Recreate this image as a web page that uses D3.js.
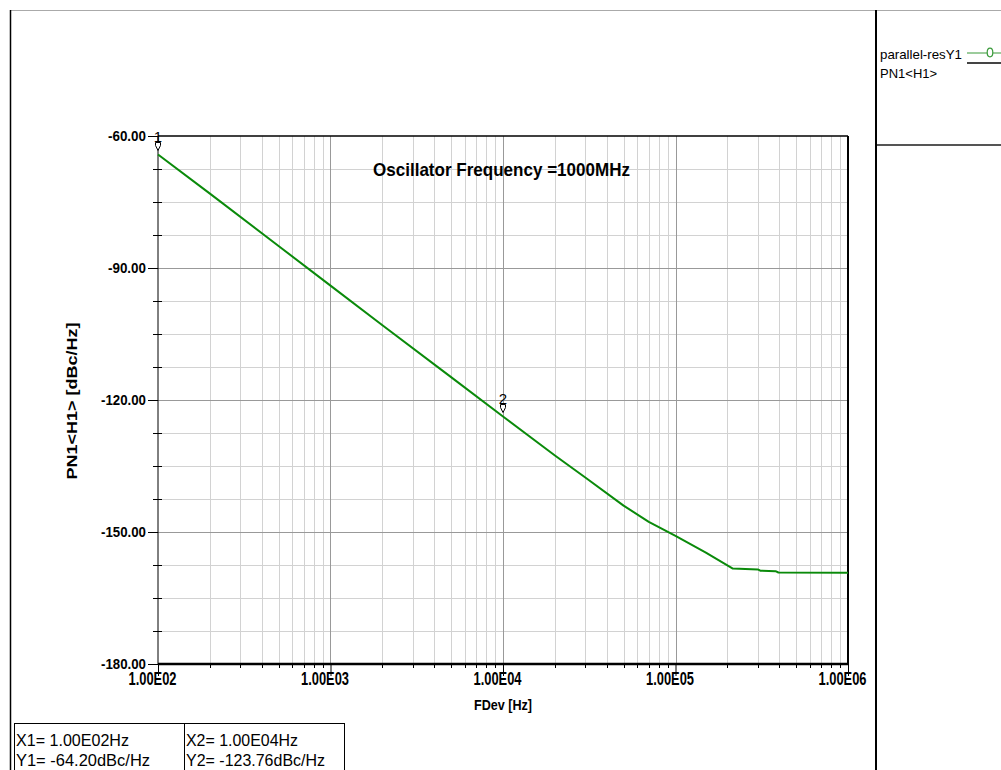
<!DOCTYPE html>
<html>
<head>
<meta charset="utf-8">
<script src="https://cdn.jsdelivr.net/npm/d3@7"></script>
<style>
  html, body { margin: 0; padding: 0; background: #fff; }
  svg { display: block; }
  text { font-family: "Liberation Sans", Arial, sans-serif; fill: #000; }
</style>
</head>
<body>
<svg id="chart" width="1001" height="770"></svg>
<script>
// Phase noise of the oscillator, offset frequency (Hz) vs dBc/Hz
const freqHz = [1e2, 2e2, 5e2, 1e3, 2e3, 5e3, 1e4, 2e4, 3e4, 5e4, 7e4, 1e5, 1.5e5, 2.15e5, 3e5, 3.1e5, 3.8e5, 3.95e5, 1e6];
const pnDbc  = [-64.2, -73.1, -85.0, -94.0, -103.0, -114.8, -123.76, -132.6, -137.6, -144.0, -147.7, -150.9, -154.7, -158.3, -158.5, -158.8, -158.9, -159.2, -159.25];

// Markers placed on the trace
const markerIds   = ["1", "2"];
const markerFreqs = [1e2, 1e4];
const markerVals  = [-64.20, -123.76];

// Axis ticks
const xDecades   = [1e2, 1e3, 1e4, 1e5, 1e6];
const xTickNames = ["1.00E02", "1.00E03", "1.00E04", "1.00E05", "1.00E06"];
const yMajor     = [-60, -90, -120, -150, -180];
const yTickNames = ["-60.00", "-90.00", "-120.00", "-150.00", "-180.00"];
const yMinor     = [-67.5, -75, -82.5, -97.5, -105, -112.5, -127.5, -135, -142.5, -157.5, -165, -172.5];

const titleText  = "Oscillator Frequency =1000MHz";
const xTitle     = "FDev [Hz]";
const yTitle     = "PN1<H1> [dBc/Hz]";
const legendName = "parallel-resY1";
const legendSub  = "PN1<H1>";

const svg = d3.select("#chart");
const plotL = 158, plotR = 848, plotT = 136, plotB = 664;
const narrow = '"Liberation Sans Narrow", "Liberation Sans", Arial, sans-serif';

const x = d3.scaleLog().domain([1e2, 1e6]).range([plotL, plotR]);
const y = d3.scaleLinear().domain([-180, -60]).range([plotB, plotT]);

// Minor frequencies 2..9 in each decade
const xMinor = [];
for (let d = 2; d < 6; d++) for (let m = 2; m <= 9; m++) xMinor.push(m * Math.pow(10, d));

// Window frame
svg.append("line").attr("x1", 10).attr("x2", 1001).attr("y1", 10.5).attr("y2", 10.5)
  .attr("stroke", "#aaa").attr("stroke-width", 1);
svg.append("line").attr("x1", 10.5).attr("x2", 10.5).attr("y1", 10).attr("y2", 770)
  .attr("stroke", "#000").attr("stroke-width", 1.5);
svg.append("line").attr("x1", 876).attr("x2", 876).attr("y1", 10).attr("y2", 770)
  .attr("stroke", "#000").attr("stroke-width", 2);
svg.append("line").attr("x1", 877).attr("x2", 1001).attr("y1", 145).attr("y2", 145)
  .attr("stroke", "#555").attr("stroke-width", 2);

// Grid
const grid = svg.append("g");
grid.selectAll(".vmin").data(xMinor).join("line")
  .attr("x1", d => Math.round(x(d)) + 0.5).attr("x2", d => Math.round(x(d)) + 0.5)
  .attr("y1", plotT).attr("y2", plotB).attr("stroke", "#d2d2d2").attr("stroke-width", 1);
grid.selectAll(".hmin").data(yMinor).join("line")
  .attr("x1", plotL).attr("x2", plotR)
  .attr("y1", d => Math.round(y(d)) + 0.5).attr("y2", d => Math.round(y(d)) + 0.5)
  .attr("stroke", "#d2d2d2").attr("stroke-width", 1);
grid.selectAll(".vmaj").data(xDecades.slice(1, -1)).join("line")
  .attr("x1", d => Math.round(x(d)) + 0.5).attr("x2", d => Math.round(x(d)) + 0.5)
  .attr("y1", plotT).attr("y2", plotB).attr("stroke", "#999").attr("stroke-width", 1);
grid.selectAll(".hmaj").data(yMajor.slice(1, -1)).join("line")
  .attr("x1", plotL).attr("x2", plotR)
  .attr("y1", d => Math.round(y(d)) + 0.5).attr("y2", d => Math.round(y(d)) + 0.5)
  .attr("stroke", "#999").attr("stroke-width", 1);

// Plot border
svg.append("line").attr("x1", plotL).attr("x2", plotR).attr("y1", plotT).attr("y2", plotT)
  .attr("stroke", "#000").attr("stroke-width", 1.5);
svg.append("line").attr("x1", plotR).attr("x2", plotR).attr("y1", plotT).attr("y2", plotB)
  .attr("stroke", "#000").attr("stroke-width", 2);
svg.append("line").attr("x1", plotL).attr("x2", plotL).attr("y1", plotT).attr("y2", plotB)
  .attr("stroke", "#000").attr("stroke-width", 1);

// Y axis
const yAxis = d3.axisLeft(y).tickValues(yMajor)
  .tickFormat((d, i) => yTickNames[i]).tickSize(10).tickPadding(2);
const yg = svg.append("g").attr("transform", `translate(${plotL},0)`).call(yAxis);
yg.select(".domain").remove();
yg.selectAll(".tick line").attr("stroke", "#000");
yg.selectAll(".tick text").attr("font-size", 15.5).attr("font-weight", "bold")
  .attr("font-family", narrow).attr("fill", "#000")
  .attr("textLength", (d, i) => yTickNames[i].length > 6 ? 45 : 38)
  .attr("lengthAdjust", "spacingAndGlyphs");
svg.append("g").selectAll("line").data(yMinor).join("line")
  .attr("x1", plotL - 5).attr("x2", plotL + 4)
  .attr("y1", d => Math.round(y(d)) + 0.5).attr("y2", d => Math.round(y(d)) + 0.5)
  .attr("stroke", "#000").attr("stroke-width", 1);

// X axis
const xAxis = d3.axisBottom(x).tickValues(xDecades)
  .tickFormat((d, i) => xTickNames[i]).tickSize(12).tickPadding(-4);
const xg = svg.append("g").attr("transform", `translate(0,${plotB})`).call(xAxis);
xg.select(".domain").remove();
xg.selectAll(".tick line").attr("stroke", "#000");
xg.selectAll(".tick text")
  .attr("font-size", 18).attr("font-weight", "bold")
  .attr("font-family", narrow)
  .attr("fill", "#000").attr("dx", -6)
  .attr("textLength", 48).attr("lengthAdjust", "spacingAndGlyphs");
svg.append("g").selectAll("line").data(xMinor).join("line")
  .attr("x1", d => Math.round(x(d)) + 0.5).attr("x2", d => Math.round(x(d)) + 0.5)
  .attr("y1", plotB).attr("y2", plotB + 4)
  .attr("stroke", "#000").attr("stroke-width", 1);
svg.append("line").attr("x1", plotL).attr("x2", plotR + 1).attr("y1", plotB).attr("y2", plotB)
  .attr("stroke", "#000").attr("stroke-width", 2.5);

// Axis titles
svg.append("text").attr("x", 503).attr("y", 710).attr("text-anchor", "middle")
  .attr("font-size", 15).attr("font-weight", "bold")
  .attr("textLength", 58).attr("lengthAdjust", "spacingAndGlyphs").text(xTitle);
svg.append("text").attr("transform", "translate(77,401) rotate(-90)")
  .attr("text-anchor", "middle").attr("font-size", 14).attr("font-weight", "bold")
  .attr("textLength", 157).attr("lengthAdjust", "spacingAndGlyphs").text(yTitle);

// Title inside plot
svg.append("text").attr("x", 373).attr("y", 176)
  .attr("font-size", 19).attr("font-weight", "bold")
  .attr("textLength", 257).attr("lengthAdjust", "spacingAndGlyphs").text(titleText);

// Trace
const line = d3.line().x((d, i) => x(freqHz[i])).y(d => y(d));
svg.append("path").datum(pnDbc).attr("d", line)
  .attr("fill", "none").attr("stroke", "#0a8a0a").attr("stroke-width", 2)
  .attr("stroke-linejoin", "round");

// Markers
markerIds.forEach((id, i) => {
  const mx = x(markerFreqs[i]), my = y(markerVals[i]);
  svg.append("path")
    .attr("d", `M${mx - 2.5},${my - 12} h5 v3 l-2.5,5 l-2.5,-5 z`)
    .attr("fill", "#fff").attr("stroke", "#000").attr("stroke-width", 1);
  svg.append("text").attr("x", mx).attr("y", my - 12.5).attr("text-anchor", "middle")
    .attr("font-size", 15).attr("font-family", narrow).text(id);
});

// Legend
svg.append("text").attr("x", 880).attr("y", 59).attr("font-size", 13)
  .attr("textLength", 82).attr("lengthAdjust", "spacingAndGlyphs").text(legendName);
svg.append("text").attr("x", 880).attr("y", 78).attr("font-size", 13).text(legendSub);
svg.append("line").attr("x1", 967).attr("x2", 1001).attr("y1", 53).attr("y2", 53)
  .attr("stroke", "#3a9a3a").attr("stroke-width", 1.2);
svg.append("ellipse").attr("cx", 990).attr("cy", 52.5).attr("rx", 2.8).attr("ry", 4.3)
  .attr("fill", "#fff").attr("stroke", "#3a9a3a").attr("stroke-width", 1.2);
svg.append("line").attr("x1", 967).attr("x2", 1001).attr("y1", 63).attr("y2", 63)
  .attr("stroke", "#444").attr("stroke-width", 2);

// Marker readout table
const fmtExp = f => {
  const e = Math.floor(Math.log10(f));
  return (f / Math.pow(10, e)).toFixed(2) + "E" + String(e).padStart(2, "0");
};
const tbl = svg.append("g");
tbl.append("rect").attr("x", 14.5).attr("y", 723.5).attr("width", 330).attr("height", 60)
  .attr("fill", "none").attr("stroke", "#000").attr("stroke-width", 1);
tbl.append("line").attr("x1", 184.5).attr("x2", 184.5).attr("y1", 723).attr("y2", 770)
  .attr("stroke", "#000").attr("stroke-width", 1);
const colX = [16, 186];
const xLens = [113, 112];
const yLens = [134, 139];
markerIds.forEach((id, i) => {
  tbl.append("text").attr("x", colX[i]).attr("y", 746).attr("font-size", 17)
    .attr("font-family", narrow)
    .attr("textLength", xLens[i]).attr("lengthAdjust", "spacingAndGlyphs")
    .text(`X${id}= ${fmtExp(markerFreqs[i])}Hz`);
  tbl.append("text").attr("x", colX[i]).attr("y", 766).attr("font-size", 17)
    .attr("font-family", narrow)
    .attr("textLength", yLens[i]).attr("lengthAdjust", "spacingAndGlyphs")
    .text(`Y${id}= ${markerVals[i].toFixed(2)}dBc/Hz`);
});
</script>
</body>
</html>
